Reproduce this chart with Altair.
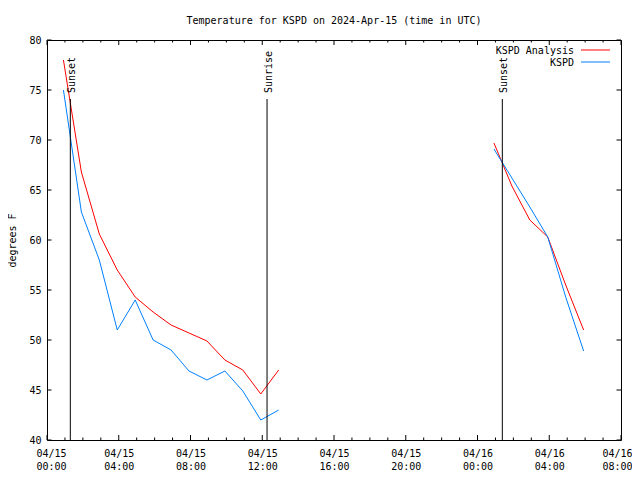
import altair as alt
import pandas as pd

# ---------------- data ----------------
title_text = "Temperature for KSPD on 2024-Apr-15 (time in UTC)"
y_title = "degrees F"
series_names = ["KSPD Analysis", "KSPD"]
series_colors = ["#ff0000", "#0080ff"]

seg1_times = ["2024-04-15T00:55:00Z", "2024-04-15T01:55:00Z", "2024-04-15T02:55:00Z",
              "2024-04-15T03:55:00Z", "2024-04-15T04:55:00Z", "2024-04-15T05:55:00Z",
              "2024-04-15T06:55:00Z", "2024-04-15T07:55:00Z", "2024-04-15T08:55:00Z",
              "2024-04-15T09:55:00Z", "2024-04-15T10:55:00Z", "2024-04-15T11:55:00Z",
              "2024-04-15T12:55:00Z"]
seg1_analysis = [78.0, 66.8, 60.6, 57.0, 54.3, 52.8, 51.5, 50.7, 49.9, 48.0, 47.0, 44.6, 47.0]
seg1_obs = [75.0, 62.8, 58.0, 51.0, 54.0, 50.0, 49.0, 46.9, 46.0, 46.9, 44.9, 42.0, 43.0]

seg2_times = ["2024-04-16T00:55:00Z", "2024-04-16T01:55:00Z", "2024-04-16T02:55:00Z",
              "2024-04-16T03:55:00Z", "2024-04-16T04:55:00Z", "2024-04-16T05:55:00Z"]
seg2_analysis = [69.7, 65.4, 62.0, 60.3, 55.5, 51.0]
seg2_obs = [69.1, 66.2, 63.3, 60.3, 54.3, 48.9]

sun_times = ["2024-04-15T01:18:00Z", "2024-04-15T12:16:00Z", "2024-04-16T01:23:00Z"]
sun_labels = ["Sunset", "Sunrise", "Sunset"]

x_tick_days = [15, 15, 15, 15, 15, 15, 16, 16, 16]
x_tick_hours = [0, 4, 8, 12, 16, 20, 0, 4, 8]
y_ticks = [40, 45, 50, 55, 60, 65, 70, 75, 80]

# ---------------- tables ----------------
rows = []
for seg, times, ana, obs in [(1, seg1_times, seg1_analysis, seg1_obs),
                             (2, seg2_times, seg2_analysis, seg2_obs)]:
    for t, v in zip(times, ana):
        rows.append({"time": t, "temp": v, "series": series_names[0], "seg": f"{series_names[0]}-{seg}"})
    for t, v in zip(times, obs):
        rows.append({"time": t, "temp": v, "series": series_names[1], "seg": f"{series_names[1]}-{seg}"})
df_lines = pd.DataFrame(rows)

df_sun = pd.DataFrame({"time": sun_times, "label": sun_labels})

major_iso = [f"2024-04-{d:02d}T{h:02d}:00:00Z" for d, h in zip(x_tick_days, x_tick_hours)]
minor_iso = []
for d, h in zip(x_tick_days[:-1], x_tick_hours[:-1]):
    for k in range(1, 4):
        minor_iso.append(f"2024-04-{d:02d}T{h + k:02d}:00:00Z")
df_major = pd.DataFrame({"time": major_iso})
df_minor = pd.DataFrame({"time": minor_iso})
df_yt = pd.DataFrame({"temp": y_ticks})
df_title = pd.DataFrame({"t": [title_text]})

FONT = "DejaVu Sans Mono"
W, H = 574, 400

x_values = [alt.DateTime(year=2024, month=4, date=d, hours=h, utc=True)
            for d, h in zip(x_tick_days, x_tick_hours)]
x_scale = alt.Scale(type="utc", domain=[x_values[0], x_values[-1]], nice=False)
x_axis = alt.Axis(values=x_values, title=None, grid=False, domain=False, ticks=False, tickSize=0,
                  labelExpr="[utcFormat(datum.value, '%m/%d'), utcFormat(datum.value, '%H:%M')]",
                  labelFont=FONT, labelFontSize=10, labelColor="black", labelPadding=8,
                  labelBaseline="top", labelLineHeight=13, labelFlush=True, labelFlushOffset=11,
                  labelOverlap=False)
y_scale = alt.Scale(domain=[40, 80], nice=False, zero=False)
y_axis = alt.Axis(values=y_ticks, title=y_title, grid=False, domain=False, ticks=False, tickSize=0,
                  labelFont=FONT, labelFontSize=10, labelColor="black", labelPadding=6,
                  titleFont=FONT, titleFontSize=10, titleFontWeight="normal", titleColor="black",
                  titleAngle=270, titleAlign="center", titleBaseline="middle",
                  titleX=-35, titleY=200)

x_enc = alt.X("time:T", scale=x_scale, axis=x_axis)
y_enc = alt.Y("temp:Q", scale=y_scale, axis=y_axis)
color_scale = alt.Scale(domain=series_names, range=series_colors)

lines = alt.Chart(df_lines).mark_line(strokeWidth=1).encode(
    x=x_enc, y=y_enc,
    color=alt.Color("series:N", scale=color_scale, legend=None),
    detail="seg:N",
)

sun_rules = alt.Chart(df_sun).mark_rule(color="black", strokeWidth=1).encode(
    x=x_enc, y=alt.value(59), y2=alt.value(H))
sun_text = alt.Chart(df_sun).mark_text(angle=270, align="left", baseline="middle", dy=2,
                                       font=FONT, fontSize=10, color="black").encode(
    x=x_enc, y=alt.value(53), text="label:N")

tick_layers = [
    alt.Chart(df_major).mark_rule(color="black", strokeWidth=1).encode(
        x=x_enc, y=alt.value(H - 5), y2=alt.value(H)),
    alt.Chart(df_major).mark_rule(color="black", strokeWidth=1).encode(
        x=x_enc, y=alt.value(0), y2=alt.value(5)),
    alt.Chart(df_minor).mark_rule(color="black", strokeWidth=1).encode(
        x=x_enc, y=alt.value(H - 2.5), y2=alt.value(H)),
    alt.Chart(df_minor).mark_rule(color="black", strokeWidth=1).encode(
        x=x_enc, y=alt.value(0), y2=alt.value(2.5)),
    alt.Chart(df_yt).mark_rule(color="black", strokeWidth=1).encode(
        y=y_enc, x=alt.value(0), x2=alt.value(4.5)),
    alt.Chart(df_yt).mark_rule(color="black", strokeWidth=1).encode(
        y=y_enc, x=alt.value(W - 4.5), x2=alt.value(W)),
]

legend_layers = []
legend_rows_y = [11, 23]
for name, ly in zip(series_names, legend_rows_y):
    dfl = pd.DataFrame({"series": [name]})
    legend_layers.append(alt.Chart(dfl).mark_text(align="right", baseline="middle", font=FONT,
                                                  fontSize=10, color="black").encode(
        x=alt.value(527), y=alt.value(ly), text="series:N"))
    legend_layers.append(alt.Chart(dfl).mark_rule(strokeWidth=1).encode(
        x=alt.value(534), x2=alt.value(563), y=alt.value(ly - 1),
        color=alt.Color("series:N", scale=color_scale, legend=None)))

title_layer = alt.Chart(df_title).mark_text(align="center", baseline="alphabetic", font=FONT,
                                            fontSize=10, color="black").encode(
    x=alt.value(W / 2), y=alt.value(-16), text="t:N")

chart = alt.layer(lines, sun_rules, sun_text, *tick_layers, *legend_layers, title_layer).properties(
    width=W, height=H,
    autosize=alt.AutoSizeParams(type="none"),
    padding={"left": 39, "top": 32, "right": 11, "bottom": 32},
    background="white",
).configure_view(stroke="black", strokeWidth=1)

chart.save("out.html", embed_options={"renderer": "svg", "actions": False})
